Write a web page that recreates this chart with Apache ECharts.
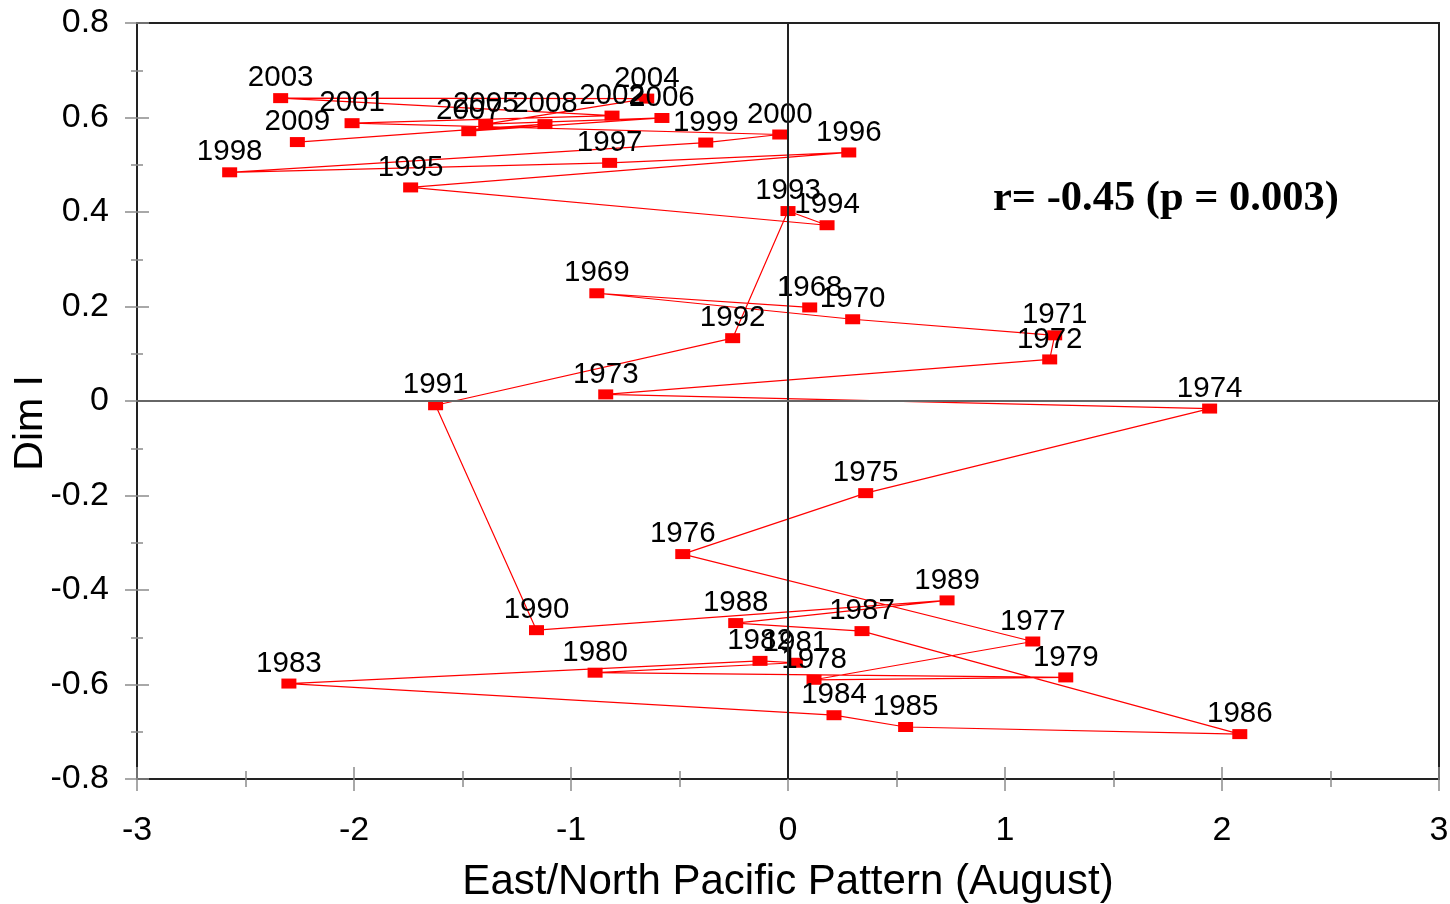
<!DOCTYPE html>
<html>
<head>
<meta charset="utf-8">
<script src="https://cdn.jsdelivr.net/npm/echarts@6/dist/echarts.min.js"></script>
<style>
  html, body { margin: 0; padding: 0; background: #fff; }
  #chart { width: 1450px; height: 904px; }
</style>
</head>
<body>
<div id="chart"></div>
<script>
// years plotted in order, joined by a line
const years = [1968, 1969, 1970, 1971, 1972, 1973, 1974, 1975, 1976, 1977,
  1978, 1979, 1980, 1981, 1982, 1983, 1984, 1985, 1986, 1987,
  1988, 1989, 1990, 1991, 1992, 1993, 1994, 1995, 1996, 1997,
  1998, 1999, 2000, 2001, 2002, 2003, 2004, 2005, 2006, 2007, 2008, 2009];

// East/North Pacific pattern index (August)
const enpIndex = [0.100, -0.881, 0.298, 1.229, 1.206, -0.840, 1.943, 0.358, -0.485, 1.128,
  0.120, 1.280, -0.889, 0.034, -0.129, -2.300, 0.212, 0.542, 2.082, 0.341,
  -0.241, 0.733, -1.159, -1.624, -0.255, 0.000, 0.180, -1.739, 0.280, -0.822,
  -2.573, -0.379, -0.038, -2.009, -0.811, -2.338, -0.651, -1.393, -0.581, -1.471, -1.120, -2.261];

// Dim I score
const dimOne = [0.198, 0.228, 0.173, 0.139, 0.088, 0.014, -0.016, -0.195, -0.324, -0.509,
  -0.590, -0.585, -0.575, -0.554, -0.550, -0.598, -0.665, -0.690, -0.705, -0.487,
  -0.470, -0.422, -0.485, -0.009, 0.133, 0.402, 0.372, 0.452, 0.526, 0.504,
  0.484, 0.547, 0.564, 0.588, 0.604, 0.641, 0.640, 0.586, 0.599, 0.571, 0.586, 0.548];

const corrText = 'r= -0.45 (p = 0.003)';

const points = years.map((yr, i) => [enpIndex[i], dimOne[i], yr]);

const sans = '"Liberation Sans", Arial, sans-serif';
const tickGray = '#8c8c8c';

const baseX = {
  type: 'value', min: -3, max: 3, interval: 1,
  splitLine: { show: false },
  minorTick: { show: true, splitNumber: 2, length: 8, lineStyle: { color: tickGray, width: 1.5 } },
  axisTick: { length: 12, lineStyle: { color: tickGray, width: 1.5 } }
};
const baseY = {
  type: 'value', min: -0.8, max: 0.8, interval: 0.2,
  splitLine: { show: false },
  minorTick: { show: true, splitNumber: 2, length: 6, lineStyle: { color: tickGray, width: 1.5 } },
  axisTick: { length: 12, lineStyle: { color: tickGray, width: 1.5 } }
};

const chart = echarts.init(document.getElementById('chart'));
chart.setOption({
  animation: false,
  grid: { left: 137, right: 11, top: 23, bottom: 125, show: true, borderColor: '#222', borderWidth: 2,
    containLabel: false, outerBoundsMode: 'none' },
  xAxis: [
    Object.assign({}, baseX, {
      position: 'bottom',
      axisLine: { onZero: false, lineStyle: { color: '#222', width: 2 } },
      axisLabel: { fontSize: 34, color: '#000', fontFamily: sans, margin: 35,
        formatter: v => String(Math.round(v)) },
      name: 'East/North Pacific Pattern (August)',
      nameLocation: 'middle', nameGap: 82,
      nameTextStyle: { fontSize: 42, color: '#000', fontFamily: sans }
    }),
    Object.assign({}, baseX, {
      position: 'bottom',
      axisLine: { show: false, onZero: false },
      axisLabel: { show: false },
      axisTick: Object.assign({}, baseX.axisTick, { inside: true })
    })
  ],
  yAxis: [
    Object.assign({}, baseY, {
      position: 'left',
      axisLine: { onZero: false, lineStyle: { color: '#222', width: 2 } },
      axisLabel: { fontSize: 34, color: '#000', fontFamily: sans, margin: 28,
        formatter: v => String(Math.round(v * 10) / 10) }
    }),
    Object.assign({}, baseY, {
      position: 'left',
      axisLine: { show: false, onZero: false },
      axisLabel: { show: false },
      axisTick: Object.assign({}, baseY.axisTick, { inside: true })
    })
  ],
  graphic: [
    {
      type: 'text', left: 10, top: 375, rotation: Math.PI / 2,
      style: { text: 'Dim I', fontSize: 41, fontFamily: sans, fill: '#000' }
    },
    {
      type: 'text', left: 993, top: 178,
      style: { text: corrText, fontSize: 42.5, fontWeight: 'bold',
        fontFamily: '"Liberation Serif", "Times New Roman", serif', fill: '#000' }
    }
  ],
  series: [
    {
      type: 'line',
      xAxisIndex: 0, yAxisIndex: 0,
      data: points,
      symbol: 'rect', symbolSize: [15, 10],
      lineStyle: { color: '#ff0000', width: 1.2 },
      itemStyle: { color: '#ff0000' },
      label: {
        show: true, position: 'top', distance: 0,
        fontSize: 29.5, color: '#000', fontFamily: sans,
        formatter: p => String(p.value[2])
      },
      markLine: {
        silent: true, symbol: 'none', label: { show: false },
        data: [
          { xAxis: 0, lineStyle: { color: '#222', width: 2, type: 'solid' } },
          { yAxis: 0, lineStyle: { color: '#666', width: 2, type: 'solid' } }
        ]
      },
      z: 3
    }
  ]
});
</script>
</body>
</html>
